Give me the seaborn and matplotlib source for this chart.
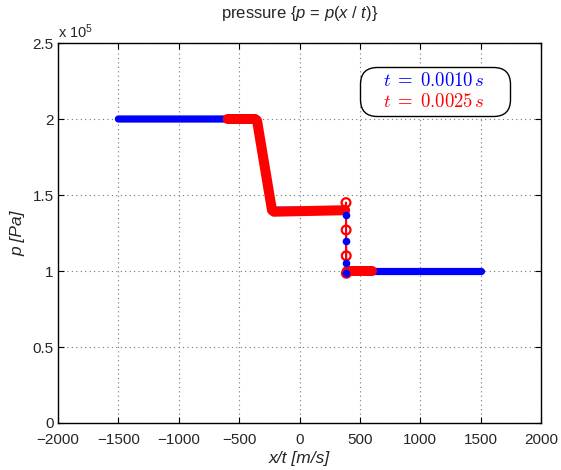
import matplotlib
matplotlib.use('Agg')
import matplotlib.pyplot as plt
import seaborn as sns
from matplotlib.ticker import FuncFormatter

# t = 0.0010 s (blue), pressure in Pa, x/t in m/s
blue_x_left = [-1500, -370, -355, -228, -214, 380]
blue_p_left = [2.0e5, 2.0e5, 2.0e5, 1.40e5, 1.40e5, 1.40e5]
blue_x_shock = [380, 384, 385, 386, 387, 391]
blue_p_shock = [1.40e5, 1.37e5, 1.20e5, 1.055e5, 0.99e5, 1.0e5]
blue_x_right = [391, 1500]
blue_p_right = [1.0e5, 1.0e5]

# t = 0.0025 s (red)
red_x_left = [-595, -368, -352, -228, -212, 378]
red_p_left = [2.0e5, 2.0e5, 1.99e5, 1.40e5, 1.39e5, 1.40e5]
red_x_shock = [378, 385, 386, 387, 388, 394]
red_p_shock = [1.40e5, 1.45e5, 1.27e5, 1.10e5, 0.985e5, 1.0e5]
red_x_right = [394, 600]
red_p_right = [1.0e5, 1.0e5]

x_ticks = [-2000, -1500, -1000, -500, 0, 500, 1000, 1500, 2000]
y_ticks = [0, 0.5e5, 1.0e5, 1.5e5, 2.0e5, 2.5e5]
labels = [r'$t\;=\;0.0010\,s$', r'$t\;=\;0.0025\,s$']

BLUE = '#0000ff'
RED = '#ff0000'

sns.set_style('ticks')
plt.rcParams['font.family'] = ['Liberation Sans', 'DejaVu Sans']
plt.rcParams['mathtext.fontset'] = 'custom'
plt.rcParams['mathtext.rm'] = 'Liberation Sans'
plt.rcParams['mathtext.it'] = 'Liberation Sans:italic'

fig = plt.figure(figsize=(5.61, 4.70), dpi=100)
ax = fig.add_axes([0.1034, 0.1, 0.861, 0.8085])

band = dict(sort=False, estimator=None, solid_capstyle='round', solid_joinstyle='round')
sns.lineplot(x=blue_x_left, y=blue_p_left, color=BLUE, linewidth=5.2, ax=ax, label=labels[0], **band)
sns.lineplot(x=blue_x_right, y=blue_p_right, color=BLUE, linewidth=5.2, ax=ax, **band)
sns.lineplot(x=blue_x_shock, y=blue_p_shock, color=BLUE, linewidth=1.2, ax=ax, sort=False, estimator=None)

sns.lineplot(x=red_x_left, y=red_p_left, color=RED, linewidth=7.2, ax=ax, label=labels[1], **band)
sns.lineplot(x=red_x_right, y=red_p_right, color=RED, linewidth=7.2, ax=ax, **band)
sns.lineplot(x=red_x_shock, y=red_p_shock, color=RED, linewidth=1.5, ax=ax, sort=False, estimator=None)
ax.scatter(red_x_shock[1:-1], red_p_shock[1:-1], s=40, facecolors='none', edgecolors=RED, linewidths=1.6, zorder=4)
ax.scatter(blue_x_shock[1:-1], blue_p_shock[1:-1], s=20, color=BLUE, zorder=5)

ax.set_xlim(-2000, 2000)
ax.set_ylim(0, 2.5e5)
ax.set_xticks(x_ticks)
ax.set_yticks(y_ticks)
ax.yaxis.set_major_formatter(FuncFormatter(lambda v, _: '%g' % (v / 1e5)))
ax.tick_params(direction='in', top=True, right=True, labelsize=11, length=4, width=0.8, color='black')
ax.tick_params(axis='x', pad=7)
ax.tick_params(axis='y', pad=3)
ax.grid(True, linestyle=(0, (1, 3)), color='#777777', linewidth=0.8)
for s in ax.spines.values():
    s.set_visible(True)
    s.set_color('black')
    s.set_linewidth(1.0)

ax.text(0.0, 1.004, r'x 10$^5$', transform=ax.transAxes, ha='left', va='bottom', fontsize=10.5)
ax.set_title(r'pressure {$p$ = $p$($x$ / $t$)}', fontsize=12, pad=18)
ax.set_xlabel('x/t [m/s]', fontsize=12.5, style='italic', labelpad=3)
ax.set_ylabel('p [Pa]', fontsize=12.5, style='italic', labelpad=5)

leg = ax.legend(loc='upper left', bbox_to_anchor=(0.625, 0.936, 0.311, 0.0), mode='expand',
                handlelength=1.0, handletextpad=0,
                fancybox=True, edgecolor='black', framealpha=1, fontsize=13.5,
                labelspacing=0.15, borderpad=0.25, borderaxespad=0, labelcolor=[BLUE, RED])
leg.get_frame().set_linewidth(1.0)
leg.get_frame().set_boxstyle('round', pad=0, rounding_size=0.9)
for h in leg.legend_handles:
    h.set_visible(False)
for t in leg.get_texts():
    t.set_math_fontfamily('cm')

fig.savefig('out.png', dpi=100)
